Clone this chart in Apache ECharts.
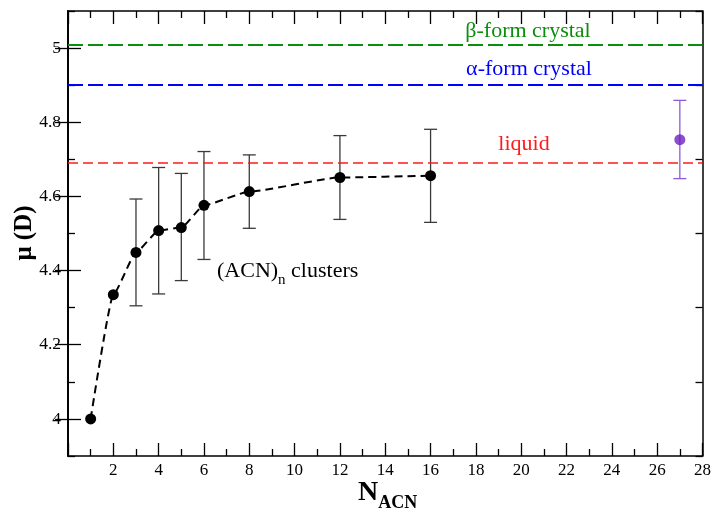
<!DOCTYPE html>
<html>
<head>
<meta charset="utf-8">
<script src="https://cdn.jsdelivr.net/npm/echarts@6/dist/echarts.min.js"></script>
<style>
  html, body { margin: 0; padding: 0; background: #ffffff; }
  #chart { width: 714px; height: 512px; }
</style>
</head>
<body>
<div id="chart"></div>
<script>
// Mean dipole moment of acetonitrile in (ACN)n clusters, with error bars
const clusterSize = [1, 2, 3, 4, 5, 6, 8, 12, 16];
const clusterDipole = [4.000, 4.335, 4.449, 4.508, 4.516, 4.576, 4.613, 4.651, 4.656];
const clusterErrLow = [null, null, 4.305, 4.337, 4.373, 4.430, 4.514, 4.538, 4.530];
const clusterErrHigh = [null, null, 4.593, 4.678, 4.662, 4.721, 4.712, 4.764, 4.781];

// Large-cluster value
const bulkSize = [27];
const bulkDipole = [4.753];
const bulkErrLow = [4.648];
const bulkErrHigh = [4.859];

// Reference dipole moments
const referenceNames = ['β-form crystal', 'α-form crystal', 'liquid'];
const referenceValues = [5.01, 4.90, 4.69];
const referenceColors = ['#0b8e0b', '#0000ff', '#ff1a1a'];

// Axis ticks
const xRange = [0, 28];
const yRange = [3.9, 5.1];
const yMajorTicks = [4.0, 4.2, 4.4, 4.6, 4.8, 5.0];
const yMinorTicks = [3.9, 4.1, 4.3, 4.5, 4.7, 4.9, 5.1];

const FONT = '"Liberation Serif", "Times New Roman", serif';

function errorRows(xs, lo, hi) {
  const rows = [];
  xs.forEach((x, i) => {
    if (lo[i] != null && hi[i] != null) rows.push([x, lo[i], hi[i]]);
  });
  return rows;
}

function errorBarRenderer(color) {
  return function (params, api) {
    const x = api.value(0);
    const lo = api.coord([x, api.value(1)]);
    const hi = api.coord([x, api.value(2)]);
    const half = 6.5;
    const style = { stroke: color, lineWidth: 1.3 };
    return {
      type: 'group',
      children: [
        { type: 'line', shape: { x1: lo[0], y1: lo[1], x2: hi[0], y2: hi[1] }, style },
        { type: 'line', shape: { x1: lo[0] - half, y1: lo[1], x2: lo[0] + half, y2: lo[1] }, style },
        { type: 'line', shape: { x1: hi[0] - half, y1: hi[1], x2: hi[0] + half, y2: hi[1] }, style }
      ]
    };
  };
}

const axisLineStyle = { show: true, lineStyle: { color: '#000', width: 1.5 } };

function xAxisDef(position, showLabels) {
  return {
    type: 'value',
    position: position,
    min: xRange[0],
    max: xRange[1],
    interval: 2,
    axisLine: axisLineStyle,
    axisTick: { show: true, inside: true, length: 13, lineStyle: { color: '#000', width: 1.3 } },
    minorTick: { show: true, splitNumber: 2, length: 7, lineStyle: { color: '#000', width: 1.3 } },
    splitLine: { show: false },
    minorSplitLine: { show: false },
    axisLabel: {
      show: showLabels,
      margin: 6,
      color: '#000',
      fontFamily: FONT,
      fontSize: 17,
      formatter: v => (v === 0 ? '' : String(v))
    }
  };
}

function yAxisDef(position, ticks, len, showLabels) {
  return {
    type: 'value',
    position: position,
    min: yRange[0],
    max: yRange[1],
    axisLine: axisLineStyle,
    axisTick: { show: true, inside: true, length: len, customValues: ticks, lineStyle: { color: '#000', width: 1.3 } },
    splitLine: { show: false },
    axisLabel: {
      show: showLabels,
      customValues: ticks,
      margin: 7,
      color: '#000',
      fontFamily: FONT,
      fontSize: 17.5,
      formatter: v => String(Math.round(v * 10) / 10)
    }
  };
}

const chart = echarts.init(document.getElementById('chart'), null, { renderer: 'canvas' });

// text widths for composing sub-scripted titles
const measureCtx = document.createElement('canvas').getContext('2d');
function textWidth(text, font) {
  measureCtx.font = font;
  return measureCtx.measureText(text).width;
}

const clusterFont = '22px ' + FONT;
const clusterSubFont = '15px ' + FONT;
const wACN = textWidth('(ACN)', clusterFont);
const wN = textWidth('n', clusterSubFont);

const xTitleFont = 'bold 28px ' + FONT;
const xTitleSubFont = 'bold 18px ' + FONT;
const wNbig = textWidth('N', xTitleFont);

const annX = 217, annY = 271;
const xTitleX = 358, xTitleY = 493;
const labelFont = '22px ' + FONT;

chart.setOption({
  animation: false,
  backgroundColor: '#ffffff',
  grid: { left: 68, right: 10, top: 11, bottom: 56, containLabel: false },
  xAxis: [xAxisDef('bottom', true), xAxisDef('top', false)],
  yAxis: [
    yAxisDef('left', yMajorTicks, 13, true),
    yAxisDef('right', yMajorTicks, 13, false),
    yAxisDef('left', yMinorTicks, 7, false),
    yAxisDef('right', yMinorTicks, 7, false)
  ],
  series: [
    {
      type: 'custom',
      name: 'cluster error',
      xAxisIndex: 0, yAxisIndex: 0,
      renderItem: errorBarRenderer('#3a3a3a'),
      data: errorRows(clusterSize, clusterErrLow, clusterErrHigh),
      z: 2,
      markLine: {
        silent: true,
        symbol: 'none',
        label: { show: false },
        data: referenceValues.map((v, i) => ({
          yAxis: v,
          name: referenceNames[i],
          lineStyle: {
            color: referenceColors[i],
            width: i === 2 ? 1.6 : 2,
            type: i === 2 ? [10, 5] : [15, 5]
          }
        }))
      }
    },
    {
      type: 'custom',
      name: 'bulk error',
      xAxisIndex: 0, yAxisIndex: 0,
      renderItem: errorBarRenderer('#8f5ad8'),
      data: errorRows(bulkSize, bulkErrLow, bulkErrHigh),
      z: 2
    },
    {
      type: 'line',
      name: '(ACN)n clusters',
      xAxisIndex: 0, yAxisIndex: 0,
      data: clusterSize.map((x, i) => [x, clusterDipole[i]]),
      smooth: 0.15,
      smoothMonotone: 'x',
      symbol: 'circle',
      symbolSize: 11,
      itemStyle: { color: '#000' },
      lineStyle: { color: '#000', width: 2, type: [8, 5] },
      z: 3
    },
    {
      type: 'scatter',
      name: 'bulk',
      xAxisIndex: 0, yAxisIndex: 0,
      data: bulkSize.map((x, i) => [x, bulkDipole[i]]),
      symbol: 'circle',
      symbolSize: 11,
      itemStyle: { color: '#6f1fc2' },
      z: 3
    }
  ],
  graphic: [
    { type: 'text', x: 528, y: 31, style: { text: referenceNames[0], font: labelFont, fill: referenceColors[0], align: 'center', verticalAlign: 'middle' } },
    { type: 'text', x: 529, y: 69, style: { text: referenceNames[1], font: labelFont, fill: referenceColors[1], align: 'center', verticalAlign: 'middle' } },
    { type: 'text', x: 524, y: 144, style: { text: referenceNames[2], font: labelFont, fill: referenceColors[2], align: 'center', verticalAlign: 'middle' } },
    { type: 'text', x: annX, y: annY, style: { text: '(ACN)', font: clusterFont, fill: '#000', align: 'left', verticalAlign: 'middle' } },
    { type: 'text', x: annX + wACN, y: annY + 9, style: { text: 'n', font: clusterSubFont, fill: '#000', align: 'left', verticalAlign: 'middle' } },
    { type: 'text', x: annX + wACN + wN, y: annY, style: { text: ' clusters', font: clusterFont, fill: '#000', align: 'left', verticalAlign: 'middle' } },
    { type: 'text', x: xTitleX, y: xTitleY, style: { text: 'N', font: xTitleFont, fill: '#000', align: 'left', verticalAlign: 'middle' } },
    { type: 'text', x: xTitleX + wNbig, y: xTitleY + 10, style: { text: 'ACN', font: xTitleSubFont, fill: '#000', align: 'left', verticalAlign: 'middle' } },
    { type: 'text', x: 25, y: 233, rotation: Math.PI / 2, style: { text: 'μ (D)', font: 'bold 25px ' + FONT, fill: '#000', align: 'center', verticalAlign: 'middle' } }
  ]
});
</script>
</body>
</html>
